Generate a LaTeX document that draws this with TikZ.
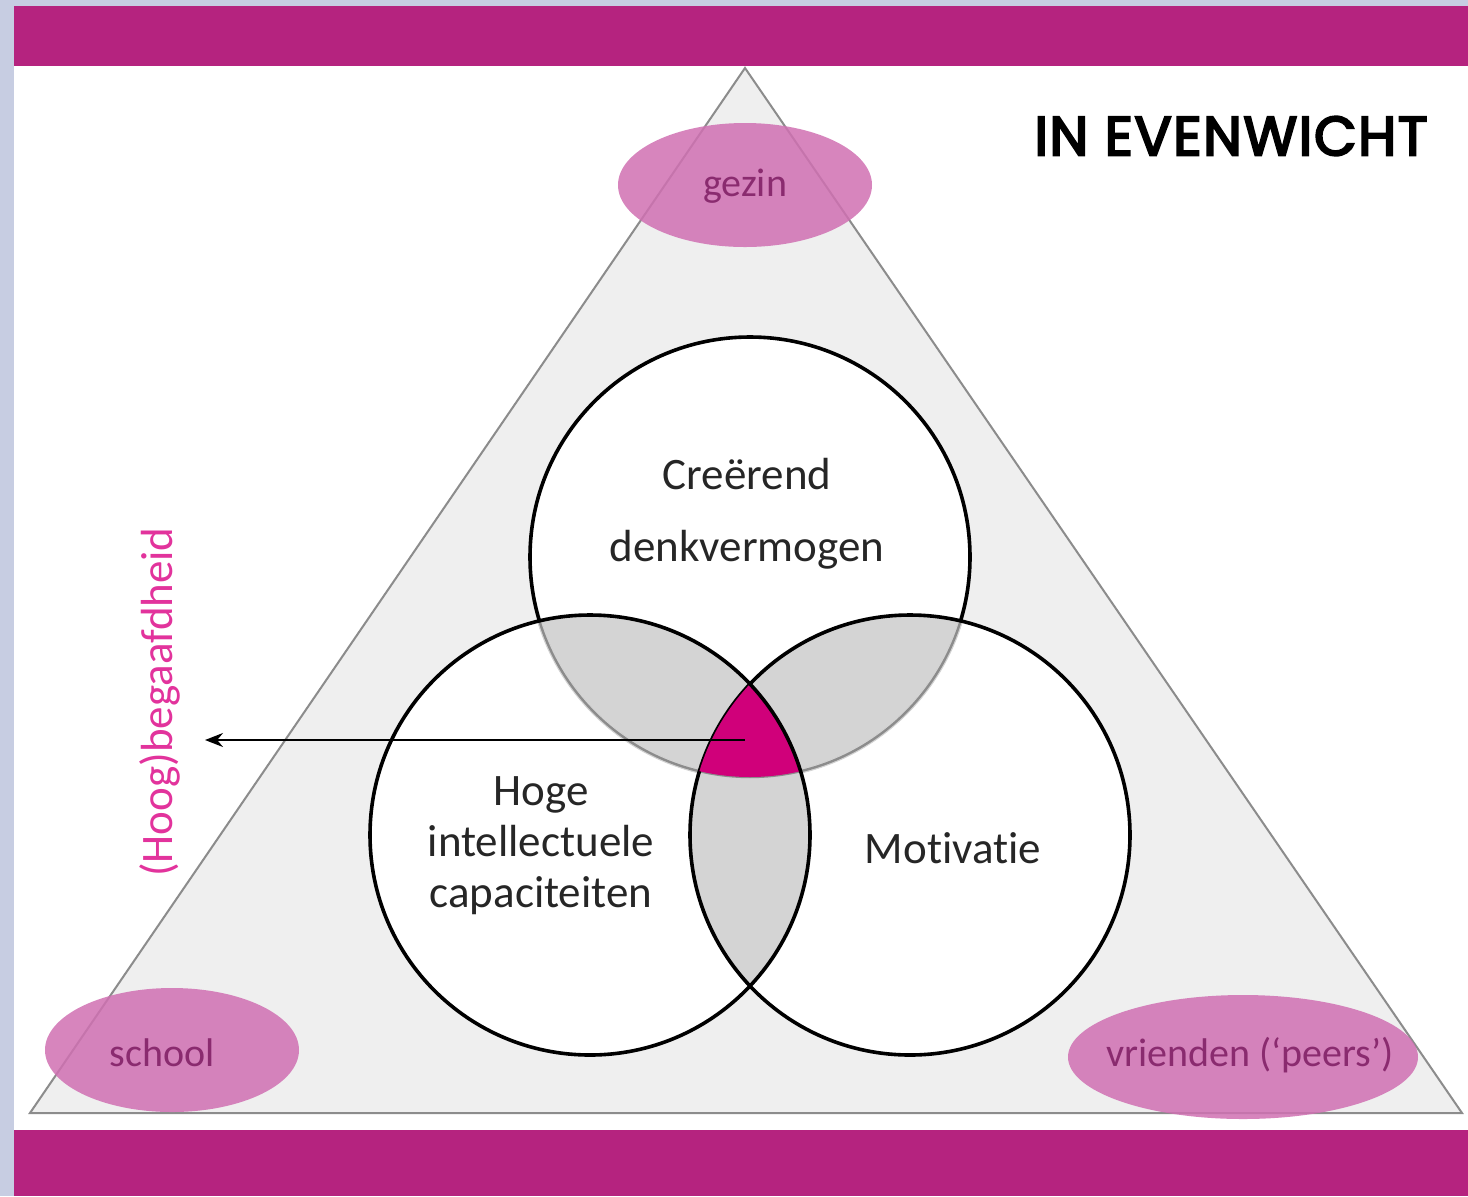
\documentclass[tikz,border=0pt]{standalone}
\usepackage{fontspec}
\setmainfont{Carlito}[Ligatures={NoCommon,NoRare,NoContextual}]
\newfontfamily\titlefont{Poppins}[FakeBold=4, LetterSpace=3]
\usetikzlibrary{arrows.meta}
\definecolor{lavbg}{HTML}{C7CDE2}
\definecolor{barmag}{HTML}{B5237F}
\definecolor{trifill}{HTML}{EFEFEF}
\definecolor{tristroke}{HTML}{8C8C8C}
\definecolor{lensgray}{HTML}{D4D4D4}
\definecolor{centermag}{HTML}{D0007A}
\definecolor{ellmag}{HTML}{D070B2}
\definecolor{elltext}{HTML}{8A2B6F}
\definecolor{giftmag}{HTML}{E2339C}
\definecolor{labeltext}{HTML}{262626}
\tikzset{
  ctx/.style={font=\fontsize{22.5}{25.5}\selectfont, text=labeltext, align=center, inner sep=0pt},
  ellipse-ish/.style={fill=ellmag, fill opacity=0.85, draw=none},
  elltxt/.style={font=\fontsize{20}{24}\selectfont, text=elltext, inner sep=0pt},
  circline/.style={draw=black, line width=1.8pt},
  grayline/.style={draw=tristroke, line width=1.2pt},
}
\begin{document}
\begin{tikzpicture}[x=0.5pt,y=-0.5pt]
\useasboundingbox (0,0) rectangle (1468,1196);
% background
\fill[lavbg] (0,0) rectangle (1468,1196);
\fill[white] (14,6) rectangle (1468,1196);
\fill[barmag] (14,6) rectangle (1468,66);
\fill[barmag] (14,1130) rectangle (1468,1196);
% triangle
\coordinate (apex) at (745,68);
\coordinate (bl) at (30,1113);
\coordinate (br) at (1462,1113);
\draw[fill=trifill, draw=tristroke, line width=1pt, line join=miter] (apex) -- (bl) -- (br) -- cycle;
% circle centres
\def\R{110pt}
\coordinate (cT) at (750,557);
\coordinate (cL) at (590,835);
\coordinate (cR) at (910,835);
\fill[white] (cT) circle[radius=\R];
\fill[white] (cL) circle[radius=\R];
\fill[white] (cR) circle[radius=\R];
% lenses
\begin{scope}
  \clip (cT) circle[radius=\R];
  \fill[lensgray] (cL) circle[radius=\R];
  \fill[lensgray] (cR) circle[radius=\R];
\end{scope}
\begin{scope}
  \clip (cL) circle[radius=\R];
  \fill[lensgray] (cR) circle[radius=\R];
\end{scope}
% top circle outline: black outside, gray inside others
\draw[circline] (cT) circle[radius=\R];
\begin{scope}
  \clip (cL) circle[radius=\R];
  \draw[grayline, draw=lensgray, line width=2.4pt] (cT) circle[radius=\R];
  \draw[grayline] (cT) circle[radius=\R];
\end{scope}
\begin{scope}
  \clip (cR) circle[radius=\R];
  \draw[grayline, draw=lensgray, line width=2.4pt] (cT) circle[radius=\R];
  \draw[grayline] (cT) circle[radius=\R];
\end{scope}
\draw[circline] (cR) circle[radius=\R];
% centre region
\begin{scope}
  \clip (cT) circle[radius=\R];
  \clip (cL) circle[radius=\R];
  \fill[centermag] (cR) circle[radius=\R];
\end{scope}
\draw[circline] (cL) circle[radius=\R];
% circle labels
\node[ctx, font=\fontsize{22.5}{36}\selectfont] (creatief) at (747,514) {Creërend\\denkvermogen};
\node[ctx] (intel) at (541,846) {Hoge\\intellectuele\\capaciteiten};
\node[ctx] (motiv) at (953,848) {Mot\kern0pt ivat\kern0pt ie};
% arrow
\coordinate (arrowstart) at (745,740);
\coordinate (arrowend) at (205,740);
\draw[line width=1.1pt, -{Stealth[length=9pt,width=7pt]}] (arrowstart) -- (arrowend);
\node[font=\fontsize{22.5}{27}\selectfont, text=giftmag, rotate=90, inner sep=0pt] (gift) at (160,702) {(Hoog)begaafdheid};
% environment ellipses
\fill[ellipse-ish] (745,185) ellipse[x radius=63.5pt, y radius=31pt];
\fill[ellipse-ish] (172,1050) ellipse[x radius=63.5pt, y radius=31pt];
\fill[ellipse-ish] (1243,1057) ellipse[x radius=87.5pt, y radius=31pt];
\node[elltxt] (gezin) at (745,186) {gezin};
\node[elltxt] (school) at (162,1053) {school};
\node[elltxt] (vrienden) at (1250,1055) {vrienden (‘peers’)};
% title
\node[font=\titlefont\fontsize{27.5}{32}\selectfont, text=black, inner sep=0pt, anchor=east] (title) at (1428,136) {IN EVENWICHT};
\end{tikzpicture}
\end{document}
